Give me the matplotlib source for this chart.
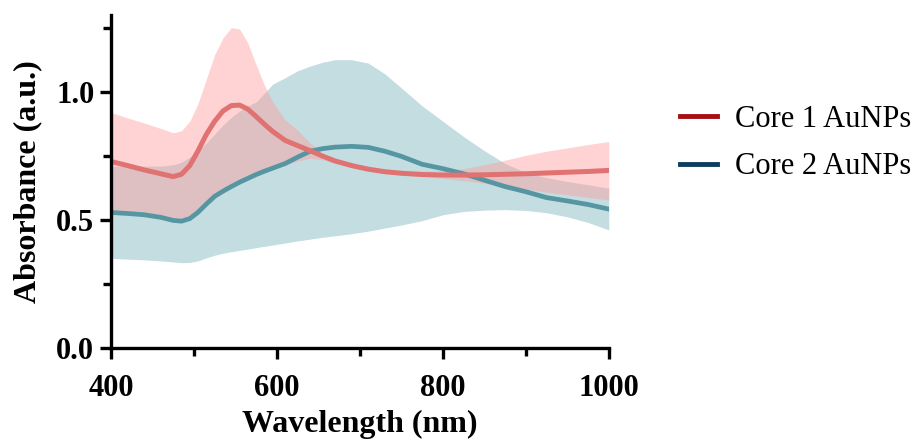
import matplotlib.pyplot as plt
from matplotlib.lines import Line2D

wavelength = [400, 420, 440, 460, 475, 485, 495, 505, 515, 525, 535, 545, 555, 565, 575, 585, 595,
              610, 625, 640, 655, 670, 690, 710, 730, 750, 775, 800, 825, 850, 875, 900, 925,
              950, 975, 1000]

core1_mean = [0.728, 0.712, 0.695, 0.68, 0.669, 0.678, 0.712, 0.77, 0.834, 0.885, 0.925, 0.946,
              0.948, 0.932, 0.903, 0.873, 0.845, 0.81, 0.79, 0.77, 0.749, 0.73, 0.712, 0.698,
              0.688, 0.682, 0.677, 0.675, 0.675, 0.676, 0.678, 0.68, 0.683, 0.686, 0.689, 0.693]
core1_upper = [0.919, 0.898, 0.878, 0.857, 0.84, 0.848, 0.885, 0.955, 1.05, 1.145, 1.21, 1.25,
               1.245, 1.19, 1.105, 1.025, 0.96, 0.89, 0.85, 0.80, 0.76, 0.735, 0.718, 0.705,
               0.697, 0.692, 0.69, 0.692, 0.70, 0.715, 0.733, 0.752, 0.768, 0.781, 0.794, 0.806]
core1_lower = [0.535, 0.53, 0.523, 0.512, 0.50, 0.497, 0.505, 0.53, 0.565, 0.595, 0.615, 0.635,
               0.652, 0.665, 0.677, 0.69, 0.70, 0.715, 0.73, 0.74, 0.735, 0.722, 0.705, 0.692,
               0.683, 0.676, 0.67, 0.662, 0.653, 0.643, 0.63, 0.62, 0.608, 0.598, 0.588, 0.578]

core2_mean = [0.529, 0.525, 0.52, 0.51, 0.498, 0.495, 0.505, 0.53, 0.562, 0.592, 0.612, 0.63,
              0.647, 0.662, 0.677, 0.69, 0.702, 0.72, 0.745, 0.768, 0.778, 0.784, 0.787, 0.783,
              0.768, 0.748, 0.717, 0.70, 0.68, 0.655, 0.63, 0.61, 0.587, 0.574, 0.56, 0.542]
core2_upper = [0.71, 0.71, 0.71, 0.71, 0.715, 0.725, 0.745, 0.77, 0.80, 0.835, 0.87, 0.90,
               0.925, 0.945, 0.96, 0.995, 1.03, 1.055, 1.082, 1.10, 1.115, 1.125, 1.125, 1.112,
               1.07, 1.015, 0.945, 0.885, 0.825, 0.77, 0.72, 0.685, 0.665, 0.65, 0.637, 0.624]
core2_lower = [0.35, 0.347, 0.344, 0.34, 0.336, 0.333, 0.334, 0.34, 0.352, 0.362, 0.37, 0.376,
               0.381, 0.386, 0.392, 0.397, 0.402, 0.41, 0.418, 0.425, 0.432, 0.438, 0.446, 0.456,
               0.468, 0.48, 0.497, 0.52, 0.533, 0.538, 0.54, 0.537, 0.528, 0.512, 0.49, 0.461]

labels = ["Core 1 AuNPs", "Core 2 AuNPs"]

plt.rcParams['font.family'] = ['Liberation Serif', 'DejaVu Serif']

fig = plt.figure(figsize=(9.21, 4.43), dpi=100)
ax = fig.add_axes([0.1205, 0.2144, 0.5405, 0.752])

# band for core 2 first, core 1 drawn over it
ax.fill_between(wavelength, core2_lower, core2_upper, color="#6aaab5", alpha=0.4, lw=0)
ax.plot(wavelength, core2_mean, color="#5596a2", lw=3.4, solid_joinstyle="round")
ax.fill_between(wavelength, core1_lower, core1_upper, color="#ff9e9e", alpha=0.45, lw=0)
ax.plot(wavelength, core1_mean, color="#e07272", lw=3.6, solid_joinstyle="round")

ax.set_xlim(400, 1000)
ax.set_ylim(0, 1.3)
ax.set_xticks([400, 600, 800, 1000])
ax.set_xticks([500, 700, 900], minor=True)
ax.set_yticks([0.0, 0.5, 1.0])
ax.set_yticks([0.25, 0.75, 1.25], minor=True)
ax.set_yticklabels(["0.0", "0.5", "1.0"])

for s in ["top", "right"]:
    ax.spines[s].set_visible(False)
for s in ["left", "bottom"]:
    ax.spines[s].set_linewidth(2.4)
ax.tick_params(which="major", length=8, width=2.4, labelsize=22)
ax.tick_params(which="minor", length=6, width=2.4)
ax.tick_params(axis="x", which="major", pad=11)
ax.tick_params(axis="y", which="major", pad=4)
for t in ax.get_xticklabels() + ax.get_yticklabels():
    t.set_fontweight("bold")

ax.set_xlabel("Wavelength (nm)", fontsize=23, fontweight="bold", labelpad=5)
ax.set_ylabel("Absorbance (a.u.)", fontsize=23, fontweight="bold", labelpad=10)

handles = [Line2D([0], [0], color="#a50f15", lw=3.5),
           Line2D([0], [0], color="#0b3d5e", lw=3.5)]
fig.legend(handles, labels, loc="upper left", bbox_to_anchor=(0.709, 0.825),
           frameon=False, fontsize=22, handlelength=1.2, handletextpad=0.6,
           labelspacing=0.6)

fig.savefig("out.png", dpi=100)
